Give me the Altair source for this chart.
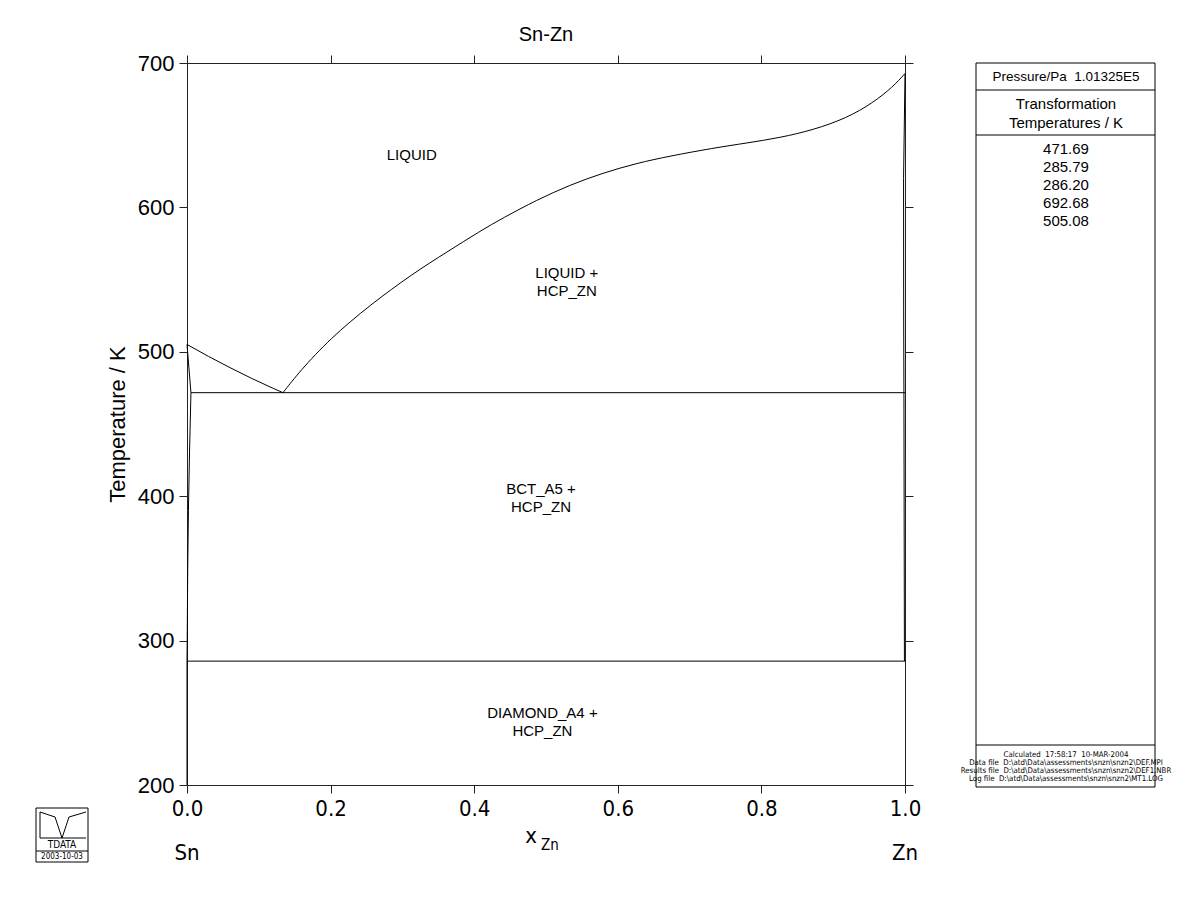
import altair as alt
import pandas as pd

# ---------------- data (x_Zn, T / K) ----------------
liq_sn_x = [0.0, 0.03, 0.06, 0.09, 0.12, 0.1337]
liq_sn_T = [505.08, 496.8, 489.0, 481.6, 474.7, 471.69]

liq_zn_x = [0.1337, 0.157, 0.199, 0.255, 0.315, 0.362, 0.408, 0.440, 0.487, 0.533,
            0.579, 0.627, 0.673, 0.733, 0.780, 0.826, 0.872, 0.919, 0.955, 0.983, 1.0]
liq_zn_T = [471.69, 486.5, 509.0, 532.5, 554.3, 569.1, 583.5, 592.7, 605.1, 615.5,
            623.8, 630.7, 635.6, 641.1, 644.6, 648.3, 653.6, 661.9, 672.3, 683.4, 692.68]

sol_sn_x = [0.0, 0.0055]
sol_sn_T = [505.08, 471.69]

solv_sn_x = [0.0055, 0.0035, 0.002, 0.001, 0.0003, 0.0]
solv_sn_T = [471.69, 430.0, 390.0, 350.0, 300.0, 286.2]

sol_zn_x = [1.0, 0.998, 0.9982, 0.9985]
sol_zn_T = [692.68, 620.0, 520.0, 471.69]

solv_zn_x = [0.9985, 0.9992]
solv_zn_T = [471.69, 285.79]

eut_x = [0.0055, 1.0]
eut_T = [471.69, 471.69]

eutd_x = [0.0, 1.0]
eutd_T = [285.79, 285.79]

axis_left_x = [0.0, 0.0]
axis_left_T = [200.0, 286.2]

phase_labels = ["LIQUID", "LIQUID +\nHCP_ZN", "BCT_A5 +\nHCP_ZN", "DIAMOND_A4 +\nHCP_ZN"]
phase_lab_x = [0.313, 0.529, 0.493, 0.495]
phase_lab_T = [636.3, 554.6, 405.0, 249.9]

x_ticks = [0.0, 0.2, 0.4, 0.6, 0.8, 1.0]
y_ticks = [200, 300, 400, 500, 600, 700]

legend_header = "Pressure/Pa \u00a01.01325E5"
legend_title = ["Transformation", "Temperatures / K"]
legend_values = ["471.69", "285.79", "286.20", "692.68", "505.08"]
legend_footer = [
    "Calculated \u00a017:58:17 \u00a010-MAR-2004",
    "Data file \u00a0D:\\atd\\Data\\assessments\\snzn\\snzn2\\DEF.MPI",
    "Results file \u00a0D:\\atd\\Data\\assessments\\snzn\\snzn2\\DEF1.NBR",
    "Log file \u00a0D:\\atd\\Data\\assessments\\snzn\\snzn2\\MT1.LOG",
]

# ---------------- build tables ----------------
sn_liq_segs = [("liq_sn", liq_sn_x, liq_sn_T)]
zn_liq_segs = [("liq_zn", liq_zn_x, liq_zn_T)]
straight_segs = [
    ("sol_sn", sol_sn_x, sol_sn_T), ("solv_sn", solv_sn_x, solv_sn_T),
    ("sol_zn", sol_zn_x, sol_zn_T), ("solv_zn", solv_zn_x, solv_zn_T),
    ("eut", eut_x, eut_T), ("eutd", eutd_x, eutd_T), ("axl", axis_left_x, axis_left_T),
]


def table(segs):
    rows = []
    for name, xs_, ts in segs:
        for i, (a, b) in enumerate(zip(xs_, ts)):
            rows.append({"x": a, "T": b, "seg": name, "ord": i})
    return pd.DataFrame(rows)


df_sn = table(sn_liq_segs)
df_zn = table(zn_liq_segs)
df_straight = table(straight_segs)

lab_df = pd.DataFrame({"x": phase_lab_x, "T": phase_lab_T, "text": phase_labels})

FONT = "Liberation Sans"
NARROW = "'Liberation Sans Narrow', 'Arial Narrow', 'DejaVu Sans Condensed', 'Roboto Condensed', Roboto, sans-serif"

xs = alt.Scale(domain=[0, 1], nice=False, zero=False)
ys = alt.Scale(domain=[200, 700], nice=False, zero=False)

common_axis = dict(grid=False, domainColor="#222", tickColor="#222", domainWidth=1,
                   tickWidth=1, tickSize=8, labelColor="black", labelFlush=False)

zn_curve = alt.Chart(df_zn).mark_line(color="black", strokeWidth=1, interpolate="basis").encode(
    x=alt.X("x:Q", scale=xs, axis=alt.Axis(values=x_ticks, format=".1f", title=None,
                                          labelFont=NARROW, labelFontSize=22, labelPadding=5,
                                          **common_axis)),
    y=alt.Y("T:Q", scale=ys, axis=alt.Axis(values=y_ticks, title="Temperature / K",
                                          labelFont=FONT, labelFontSize=22, labelPadding=5,
                                          titleFont=FONT, titleFontSize=22, titleFontWeight="normal",
                                          titleColor="black", titlePadding=8, **common_axis)),
    order="ord:Q",
)

sn_curve = alt.Chart(df_sn).mark_line(color="black", strokeWidth=1, interpolate="monotone").encode(
    x=alt.X("x:Q", scale=xs, axis=None),
    y=alt.Y("T:Q", scale=ys, axis=None),
    order="ord:Q",
)

straight = alt.Chart(df_straight).mark_line(color="black", strokeWidth=1).encode(
    x=alt.X("x:Q", scale=xs, axis=None),
    y=alt.Y("T:Q", scale=ys, axis=None),
    detail="seg:N",
    order="ord:Q",
)

frame = alt.Chart(df_straight).mark_point(opacity=0).encode(
    x=alt.X("x:Q", scale=xs, axis=alt.Axis(orient="top", values=x_ticks, labels=False, title=None,
                                          **common_axis)),
    y=alt.Y("T:Q", scale=ys, axis=alt.Axis(orient="right", values=y_ticks, labels=False, title=None,
                                          **common_axis)),
)

labels = alt.Chart(lab_df).mark_text(font=FONT, fontSize=15, color="black", lineBreak="\n",
                                     lineHeight=18, align="center", baseline="middle").encode(
    x=alt.X("x:Q", scale=xs, axis=None),
    y=alt.Y("T:Q", scale=ys, axis=None),
    text="text:N",
)


# ---------------- decorations in pixel space (relative to plot origin) ----------------
def txt(s, x, y, size, font=FONT, align="center", baseline="middle"):
    return alt.Chart(pd.DataFrame({"t": [s]})).mark_text(
        font=font, fontSize=size, color="black", align=align, baseline=baseline
    ).encode(x=alt.value(x), y=alt.value(y), text="t:N")


def rule(x1, y1, x2, y2, w=1):
    return alt.Chart(pd.DataFrame({"a": [0]})).mark_rule(color="black", strokeWidth=w).encode(
        x=alt.value(x1), y=alt.value(y1), x2=alt.value(x2), y2=alt.value(y2))


def box(x1, y1, x2, y2, w=1):
    return alt.Chart(pd.DataFrame({"a": [0]})).mark_rect(filled=False, stroke="black",
                                                          strokeWidth=w).encode(
        x=alt.value(x1), y=alt.value(y1), x2=alt.value(x2), y2=alt.value(y2))


deco = []
# title
deco.append(txt("Sn-Zn", 359, -28, 20))
# x axis title with subscript
deco.append(txt("x", 350, 773, 22, font=NARROW, align="right"))
deco.append(txt("Zn", 354, 782, 15, font=NARROW, align="left"))
deco.append(txt("Sn", 0, 790, 22, font=NARROW))
deco.append(txt("Zn", 718, 790, 22, font=NARROW))

# legend box
deco.append(box(789, 0, 968, 724))
deco.append(rule(789, 27, 968, 27))
deco.append(rule(789, 72, 968, 72))
deco.append(rule(789, 682, 968, 682))
deco.append(txt(legend_header, 879, 14, 13.5))
for i, s in enumerate(legend_title):
    deco.append(txt(s, 879, 41 + i * 19, 15))
for i, s in enumerate(legend_values):
    deco.append(txt(s, 879, 86 + i * 18, 15))
for i, s in enumerate(legend_footer):
    deco.append(txt(s, 879, 692 + i * 8, 7.8, font=NARROW))

# logo
deco.append(box(-151, 745, -99, 799))
deco.append(rule(-151, 788, -99, 788))
deco.append(rule(-147, 749, -147, 775))
deco.append(rule(-147, 775, -101, 775))
deco.append(rule(-147, 749, -132, 754))
deco.append(rule(-132, 754, -125, 775))
deco.append(rule(-125, 775, -118, 754))
deco.append(rule(-118, 754, -101, 749))
deco.append(txt("TDATA", -125, 782, 10, font=NARROW))
deco.append(txt("2003-10-03", -125, 794, 8, font=NARROW))

chart = alt.layer(zn_curve, sn_curve, straight, frame, labels, *deco).resolve_axis(
    x="independent", y="independent"
).properties(
    width=718, height=722,
    padding={"left": 187, "top": 63, "right": 295, "bottom": 138},
    autosize=alt.AutoSizeParams(type="none"),
).configure_view(stroke=None).configure(background="white")

chart.save("out.html", embed_options={"renderer": "svg", "actions": False})
